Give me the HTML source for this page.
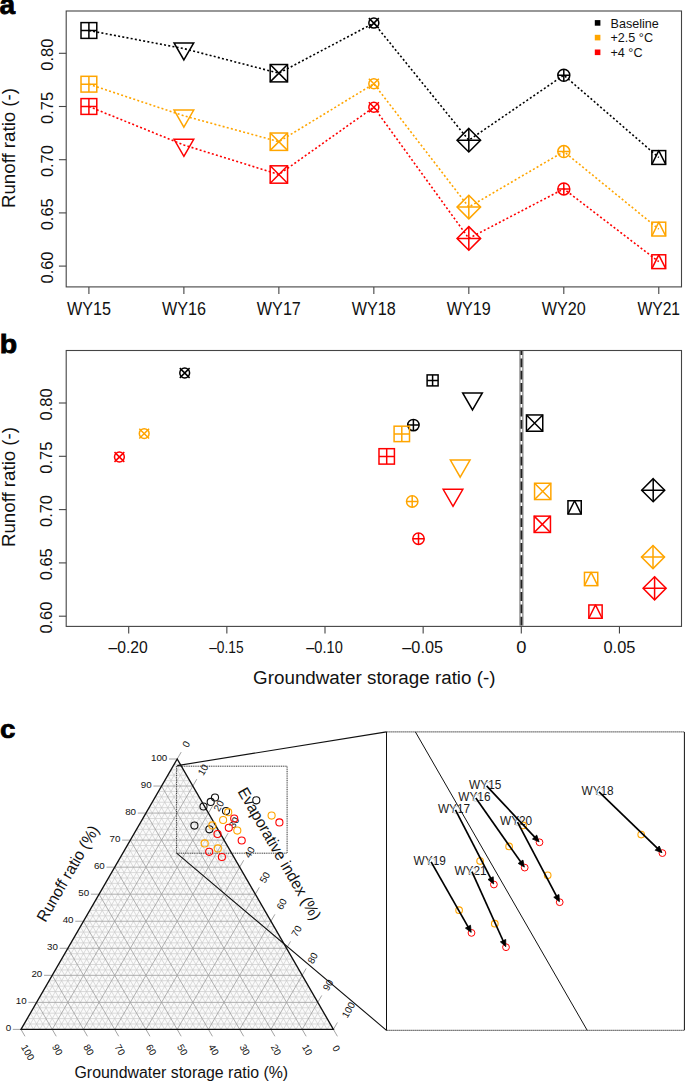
<!DOCTYPE html>
<html><head><meta charset="utf-8"><style>
html,body{margin:0;padding:0;background:#fff;width:685px;height:1081px;overflow:hidden}
svg{display:block}
text{font-family:"Liberation Sans",sans-serif;fill:#111}
</style></head><body>
<svg width="685" height="1081" viewBox="0 0 685 1081">
<text x="-0.4" y="14.1" font-size="27" font-weight="bold" style="fill:#000" textLength="15.6" lengthAdjust="spacingAndGlyphs" stroke="#000" stroke-width="0.8">a</text>
<rect x="66.2" y="11" width="615.3" height="275.9" fill="none" stroke="#444" stroke-width="1.1"/>
<path d="M58.9 266.1H66.2" stroke="#444" stroke-width="1.1"/>
<text x="52.7" y="267.5" font-size="16" text-anchor="middle" textLength="32" lengthAdjust="spacingAndGlyphs" transform="rotate(-90 52.7 267.5)">0.60</text>
<path d="M58.9 212.9H66.2" stroke="#444" stroke-width="1.1"/>
<text x="52.7" y="214.3" font-size="16" text-anchor="middle" textLength="32" lengthAdjust="spacingAndGlyphs" transform="rotate(-90 52.7 214.3)">0.65</text>
<path d="M58.9 159.7H66.2" stroke="#444" stroke-width="1.1"/>
<text x="52.7" y="161.1" font-size="16" text-anchor="middle" textLength="32" lengthAdjust="spacingAndGlyphs" transform="rotate(-90 52.7 161.1)">0.70</text>
<path d="M58.9 106.5H66.2" stroke="#444" stroke-width="1.1"/>
<text x="52.7" y="107.9" font-size="16" text-anchor="middle" textLength="32" lengthAdjust="spacingAndGlyphs" transform="rotate(-90 52.7 107.9)">0.75</text>
<path d="M58.9 53.3H66.2" stroke="#444" stroke-width="1.1"/>
<text x="52.7" y="54.7" font-size="16" text-anchor="middle" textLength="32" lengthAdjust="spacingAndGlyphs" transform="rotate(-90 52.7 54.7)">0.80</text>
<path d="M88.9 286.9V293.9" stroke="#444" stroke-width="1.1"/>
<text x="88.9" y="315" font-size="17.5" text-anchor="middle" textLength="44" lengthAdjust="spacingAndGlyphs">WY15</text>
<path d="M183.88 286.9V293.9" stroke="#444" stroke-width="1.1"/>
<text x="183.88" y="315" font-size="17.5" text-anchor="middle" textLength="44" lengthAdjust="spacingAndGlyphs">WY16</text>
<path d="M278.86 286.9V293.9" stroke="#444" stroke-width="1.1"/>
<text x="278.86" y="315" font-size="17.5" text-anchor="middle" textLength="44" lengthAdjust="spacingAndGlyphs">WY17</text>
<path d="M373.84 286.9V293.9" stroke="#444" stroke-width="1.1"/>
<text x="373.84" y="315" font-size="17.5" text-anchor="middle" textLength="44" lengthAdjust="spacingAndGlyphs">WY18</text>
<path d="M468.82 286.9V293.9" stroke="#444" stroke-width="1.1"/>
<text x="468.82" y="315" font-size="17.5" text-anchor="middle" textLength="44" lengthAdjust="spacingAndGlyphs">WY19</text>
<path d="M563.8 286.9V293.9" stroke="#444" stroke-width="1.1"/>
<text x="563.8" y="315" font-size="17.5" text-anchor="middle" textLength="44" lengthAdjust="spacingAndGlyphs">WY20</text>
<path d="M658.78 286.9V293.9" stroke="#444" stroke-width="1.1"/>
<text x="658.78" y="315" font-size="17.5" text-anchor="middle" textLength="42.6" lengthAdjust="spacingAndGlyphs">WY21</text>
<text x="15.4" y="148" font-size="18" text-anchor="middle" textLength="120" lengthAdjust="spacingAndGlyphs" transform="rotate(-90 15.4 148)">Runoff ratio (-)</text>
<polyline points="88.9,30.5 183.88,48.6 278.86,73.2 373.84,23.1 468.82,140.2 563.8,75.2 658.78,157.5" fill="none" stroke="#000" stroke-width="1.6" stroke-dasharray="2 2.25"/>
<polyline points="88.9,84.2 183.88,115.8 278.86,141.7 373.84,83.8 468.82,207.1 563.8,151.6 658.78,229.1" fill="none" stroke="#FFA500" stroke-width="1.6" stroke-dasharray="2 2.25"/>
<polyline points="88.9,106.5 183.88,145 278.86,174.5 373.84,107.2 468.82,238.4 563.8,188.9 658.78,261.7" fill="none" stroke="#FF0000" stroke-width="1.6" stroke-dasharray="2 2.25"/>
<rect x="81.01" y="22.61" width="15.77" height="15.77" fill="none" stroke="#000" stroke-width="1.5"/><path d="M88.9 22.61V38.39M81.01 30.5H96.79" fill="none" stroke="#000" stroke-width="1.5"/>
<path d="M183.88 59.95L193.71 42.92L174.05 42.92Z" fill="none" stroke="#000" stroke-width="1.5" stroke-linejoin="miter"/>
<rect x="270.18" y="64.52" width="17.37" height="17.37" fill="none" stroke="#000" stroke-width="1.5"/><path d="M270.18 64.52L287.54 81.88M270.18 81.88L287.54 64.52" fill="none" stroke="#000" stroke-width="1.5"/>
<circle cx="373.84" cy="23.1" r="5" fill="none" stroke="#000" stroke-width="1.5"/><path d="M368.84 18.1L378.84 28.1M368.84 28.1L378.84 18.1" fill="none" stroke="#000" stroke-width="1.5"/>
<path d="M468.82 128.42L480.6 140.2L468.82 151.98L457.04 140.2Z" fill="none" stroke="#000" stroke-width="1.5"/><path d="M468.82 128.42V151.98M457.04 140.2H480.6" fill="none" stroke="#000" stroke-width="1.5"/>
<circle cx="563.8" cy="75.2" r="6" fill="none" stroke="#000" stroke-width="1.5"/><path d="M563.8 69.2V81.2M557.8 75.2H569.8" fill="none" stroke="#000" stroke-width="1.5"/>
<rect x="651.87" y="150.59" width="13.82" height="13.82" fill="none" stroke="#000" stroke-width="1.5"/><path d="M651.87 164.41L658.78 150.59L665.69 164.41" fill="none" stroke="#000" stroke-width="1.5" stroke-linejoin="round"/>
<rect x="81.01" y="76.31" width="15.77" height="15.77" fill="none" stroke="#FFA500" stroke-width="1.5"/><path d="M88.9 76.31V92.09M81.01 84.2H96.79" fill="none" stroke="#FFA500" stroke-width="1.5"/>
<path d="M183.88 127.15L193.71 110.12L174.05 110.12Z" fill="none" stroke="#FFA500" stroke-width="1.5" stroke-linejoin="miter"/>
<rect x="270.18" y="133.02" width="17.37" height="17.37" fill="none" stroke="#FFA500" stroke-width="1.5"/><path d="M270.18 133.02L287.54 150.38M270.18 150.38L287.54 133.02" fill="none" stroke="#FFA500" stroke-width="1.5"/>
<circle cx="373.84" cy="83.8" r="5" fill="none" stroke="#FFA500" stroke-width="1.5"/><path d="M368.84 78.8L378.84 88.8M368.84 88.8L378.84 78.8" fill="none" stroke="#FFA500" stroke-width="1.5"/>
<path d="M468.82 195.32L480.6 207.1L468.82 218.88L457.04 207.1Z" fill="none" stroke="#FFA500" stroke-width="1.5"/><path d="M468.82 195.32V218.88M457.04 207.1H480.6" fill="none" stroke="#FFA500" stroke-width="1.5"/>
<circle cx="563.8" cy="151.6" r="6" fill="none" stroke="#FFA500" stroke-width="1.5"/><path d="M563.8 145.6V157.6M557.8 151.6H569.8" fill="none" stroke="#FFA500" stroke-width="1.5"/>
<rect x="651.87" y="222.19" width="13.82" height="13.82" fill="none" stroke="#FFA500" stroke-width="1.5"/><path d="M651.87 236.01L658.78 222.19L665.69 236.01" fill="none" stroke="#FFA500" stroke-width="1.5" stroke-linejoin="round"/>
<rect x="81.01" y="98.61" width="15.77" height="15.77" fill="none" stroke="#FF0000" stroke-width="1.5"/><path d="M88.9 98.61V114.39M81.01 106.5H96.79" fill="none" stroke="#FF0000" stroke-width="1.5"/>
<path d="M183.88 156.35L193.71 139.32L174.05 139.32Z" fill="none" stroke="#FF0000" stroke-width="1.5" stroke-linejoin="miter"/>
<rect x="270.18" y="165.82" width="17.37" height="17.37" fill="none" stroke="#FF0000" stroke-width="1.5"/><path d="M270.18 165.82L287.54 183.18M270.18 183.18L287.54 165.82" fill="none" stroke="#FF0000" stroke-width="1.5"/>
<circle cx="373.84" cy="107.2" r="5" fill="none" stroke="#FF0000" stroke-width="1.5"/><path d="M368.84 102.2L378.84 112.2M368.84 112.2L378.84 102.2" fill="none" stroke="#FF0000" stroke-width="1.5"/>
<path d="M468.82 226.62L480.6 238.4L468.82 250.18L457.04 238.4Z" fill="none" stroke="#FF0000" stroke-width="1.5"/><path d="M468.82 226.62V250.18M457.04 238.4H480.6" fill="none" stroke="#FF0000" stroke-width="1.5"/>
<circle cx="563.8" cy="188.9" r="6" fill="none" stroke="#FF0000" stroke-width="1.5"/><path d="M563.8 182.9V194.9M557.8 188.9H569.8" fill="none" stroke="#FF0000" stroke-width="1.5"/>
<rect x="651.87" y="254.79" width="13.82" height="13.82" fill="none" stroke="#FF0000" stroke-width="1.5"/><path d="M651.87 268.61L658.78 254.79L665.69 268.61" fill="none" stroke="#FF0000" stroke-width="1.5" stroke-linejoin="round"/>
<rect x="594.8" y="20.1" width="5.6" height="5.6" fill="#000"/>
<text x="610.5" y="27.5" font-size="12.6">Baseline</text>
<rect x="594.8" y="34.8" width="5.6" height="5.6" fill="#FFA500"/>
<text x="610.5" y="42.2" font-size="12.6">+2.5 °C</text>
<rect x="594.8" y="49.5" width="5.6" height="5.6" fill="#FF0000"/>
<text x="610.5" y="56.9" font-size="12.6">+4 °C</text>
<text x="-0.2" y="353.3" font-size="26.5" font-weight="bold" style="fill:#000" textLength="17.4" lengthAdjust="spacingAndGlyphs" stroke="#000" stroke-width="0.8">b</text>
<rect x="66.2" y="350.5" width="615.3" height="275.9" fill="none" stroke="#444" stroke-width="1.1"/>
<path d="M58.9 616.2H66.2" stroke="#444" stroke-width="1.1"/>
<text x="52.2" y="617.6" font-size="16" text-anchor="middle" textLength="32" lengthAdjust="spacingAndGlyphs" transform="rotate(-90 52.2 617.6)">0.60</text>
<path d="M58.9 562.9H66.2" stroke="#444" stroke-width="1.1"/>
<text x="52.2" y="564.3" font-size="16" text-anchor="middle" textLength="32" lengthAdjust="spacingAndGlyphs" transform="rotate(-90 52.2 564.3)">0.65</text>
<path d="M58.9 509.6H66.2" stroke="#444" stroke-width="1.1"/>
<text x="52.2" y="511" font-size="16" text-anchor="middle" textLength="32" lengthAdjust="spacingAndGlyphs" transform="rotate(-90 52.2 511)">0.70</text>
<path d="M58.9 456.3H66.2" stroke="#444" stroke-width="1.1"/>
<text x="52.2" y="457.7" font-size="16" text-anchor="middle" textLength="32" lengthAdjust="spacingAndGlyphs" transform="rotate(-90 52.2 457.7)">0.75</text>
<path d="M58.9 403H66.2" stroke="#444" stroke-width="1.1"/>
<text x="52.2" y="404.4" font-size="16" text-anchor="middle" textLength="32" lengthAdjust="spacingAndGlyphs" transform="rotate(-90 52.2 404.4)">0.80</text>
<path d="M128.7 626.4V633.4" stroke="#444" stroke-width="1.1"/>
<text x="128.2" y="653" font-size="16" text-anchor="middle" textLength="39.3" lengthAdjust="spacingAndGlyphs">–0.20</text>
<path d="M226.85 626.4V633.4" stroke="#444" stroke-width="1.1"/>
<text x="226.35" y="653" font-size="16" text-anchor="middle" textLength="34.4" lengthAdjust="spacingAndGlyphs">–0.15</text>
<path d="M325 626.4V633.4" stroke="#444" stroke-width="1.1"/>
<text x="324.5" y="653" font-size="16" text-anchor="middle" textLength="36.5" lengthAdjust="spacingAndGlyphs">–0.10</text>
<path d="M423.15 626.4V633.4" stroke="#444" stroke-width="1.1"/>
<text x="422.65" y="653" font-size="16" text-anchor="middle" textLength="40.6" lengthAdjust="spacingAndGlyphs">–0.05</text>
<path d="M521.3 626.4V633.4" stroke="#444" stroke-width="1.1"/>
<text x="521.3" y="653" font-size="16" text-anchor="middle" textLength="10.2" lengthAdjust="spacingAndGlyphs">0</text>
<path d="M619.45 626.4V633.4" stroke="#444" stroke-width="1.1"/>
<text x="619.45" y="653" font-size="16" text-anchor="middle" textLength="31.9" lengthAdjust="spacingAndGlyphs">0.05</text>
<text x="15.4" y="487" font-size="18" text-anchor="middle" textLength="120" lengthAdjust="spacingAndGlyphs" transform="rotate(-90 15.4 487)">Runoff ratio (-)</text>
<text x="374.3" y="684.2" font-size="18" text-anchor="middle" textLength="242.4" lengthAdjust="spacingAndGlyphs">Groundwater storage ratio (-)</text>
<path d="M521.4 351.1V625.8" stroke="#8a8a8a" stroke-width="4.2"/>
<path d="M521.4 351.1V625.8" stroke="#fff" stroke-width="1.6"/>
<path d="M521.4 351.1V625.8" stroke="#222" stroke-width="1.8" stroke-dasharray="8.8 3.5" stroke-dashoffset="5"/>
<rect x="427.11" y="374.91" width="10.99" height="10.99" fill="none" stroke="#000" stroke-width="1.5"/><path d="M432.6 374.91V385.89M427.11 380.4H438.09" fill="none" stroke="#000" stroke-width="1.5"/>
<path d="M472.5 409.95L482.33 392.92L462.67 392.92Z" fill="none" stroke="#000" stroke-width="1.5" stroke-linejoin="miter"/>
<rect x="526.45" y="414.95" width="16.3" height="16.3" fill="none" stroke="#000" stroke-width="1.5"/><path d="M526.45 414.95L542.75 431.25M526.45 431.25L542.75 414.95" fill="none" stroke="#000" stroke-width="1.5"/>
<circle cx="184.7" cy="373" r="4.9" fill="none" stroke="#000" stroke-width="1.5"/><path d="M179.8 368.1L189.6 377.9M179.8 377.9L189.6 368.1" fill="none" stroke="#000" stroke-width="1.5"/>
<path d="M653.2 478.67L664.73 490.2L653.2 501.73L641.67 490.2Z" fill="none" stroke="#000" stroke-width="1.5"/><path d="M653.2 478.67V501.73M641.67 490.2H664.73" fill="none" stroke="#000" stroke-width="1.5"/>
<circle cx="413.4" cy="425.1" r="5.7" fill="none" stroke="#000" stroke-width="1.5"/><path d="M413.4 419.4V430.8M407.7 425.1H419.1" fill="none" stroke="#000" stroke-width="1.5"/>
<rect x="567.96" y="500.75" width="13.29" height="13.29" fill="none" stroke="#000" stroke-width="1.5"/><path d="M567.96 514.04L574.6 500.75L581.25 514.04" fill="none" stroke="#000" stroke-width="1.5" stroke-linejoin="round"/>
<rect x="394.09" y="426.19" width="15.42" height="15.42" fill="none" stroke="#FFA500" stroke-width="1.5"/><path d="M401.8 426.19V441.61M394.09 433.9H409.51" fill="none" stroke="#FFA500" stroke-width="1.5"/>
<path d="M460.2 477.15L470.03 460.12L450.37 460.12Z" fill="none" stroke="#FFA500" stroke-width="1.5" stroke-linejoin="miter"/>
<rect x="534.55" y="483.25" width="16.3" height="16.3" fill="none" stroke="#FFA500" stroke-width="1.5"/><path d="M534.55 483.25L550.85 499.55M534.55 499.55L550.85 483.25" fill="none" stroke="#FFA500" stroke-width="1.5"/>
<circle cx="144.2" cy="433.6" r="4.9" fill="none" stroke="#FFA500" stroke-width="1.5"/><path d="M139.3 428.7L149.1 438.5M139.3 438.5L149.1 428.7" fill="none" stroke="#FFA500" stroke-width="1.5"/>
<path d="M653 545.57L664.53 557.1L653 568.63L641.47 557.1Z" fill="none" stroke="#FFA500" stroke-width="1.5"/><path d="M653 545.57V568.63M641.47 557.1H664.53" fill="none" stroke="#FFA500" stroke-width="1.5"/>
<circle cx="412.2" cy="501.5" r="5.7" fill="none" stroke="#FFA500" stroke-width="1.5"/><path d="M412.2 495.8V507.2M406.5 501.5H417.9" fill="none" stroke="#FFA500" stroke-width="1.5"/>
<rect x="584.46" y="572.36" width="13.29" height="13.29" fill="none" stroke="#FFA500" stroke-width="1.5"/><path d="M584.46 585.64L591.1 572.36L597.75 585.64" fill="none" stroke="#FFA500" stroke-width="1.5" stroke-linejoin="round"/>
<rect x="378.99" y="448.69" width="15.42" height="15.42" fill="none" stroke="#FF0000" stroke-width="1.5"/><path d="M386.7 448.69V464.11M378.99 456.4H394.41" fill="none" stroke="#FF0000" stroke-width="1.5"/>
<path d="M453 506.35L462.83 489.32L443.17 489.32Z" fill="none" stroke="#FF0000" stroke-width="1.5" stroke-linejoin="miter"/>
<rect x="534.15" y="516.15" width="16.3" height="16.3" fill="none" stroke="#FF0000" stroke-width="1.5"/><path d="M534.15 516.15L550.45 532.45M534.15 532.45L550.45 516.15" fill="none" stroke="#FF0000" stroke-width="1.5"/>
<circle cx="119.4" cy="457" r="4.9" fill="none" stroke="#FF0000" stroke-width="1.5"/><path d="M114.5 452.1L124.3 461.9M114.5 461.9L124.3 452.1" fill="none" stroke="#FF0000" stroke-width="1.5"/>
<path d="M654.6 576.77L666.13 588.3L654.6 599.83L643.07 588.3Z" fill="none" stroke="#FF0000" stroke-width="1.5"/><path d="M654.6 576.77V599.83M643.07 588.3H666.13" fill="none" stroke="#FF0000" stroke-width="1.5"/>
<circle cx="418.5" cy="538.7" r="5.7" fill="none" stroke="#FF0000" stroke-width="1.5"/><path d="M418.5 533V544.4M412.8 538.7H424.2" fill="none" stroke="#FF0000" stroke-width="1.5"/>
<rect x="588.86" y="604.96" width="13.29" height="13.29" fill="none" stroke="#FF0000" stroke-width="1.5"/><path d="M588.86 618.25L595.5 604.96L602.14 618.25" fill="none" stroke="#FF0000" stroke-width="1.5" stroke-linejoin="round"/>
<text x="0" y="737.9" font-size="25" font-weight="bold" style="fill:#000" textLength="15.4" lengthAdjust="spacingAndGlyphs" stroke="#000" stroke-width="0.7">c</text>
<path d="M21 1029.4L333.4 1029.4L177.2 759Z" fill="#fbfbfb"/>
<path d="M24.12 1023.99L330.28 1023.99M27.25 1029.4L180.32 764.41M327.15 1029.4L174.08 764.41M27.25 1018.58L327.15 1018.58M33.5 1029.4L183.45 769.82M320.9 1029.4L170.95 769.82M30.37 1013.18L324.03 1013.18M39.74 1029.4L186.57 775.22M314.66 1029.4L167.83 775.22M33.5 1007.77L320.9 1007.77M45.99 1029.4L189.7 780.63M308.41 1029.4L164.7 780.63M39.74 996.95L314.66 996.95M58.49 1029.4L195.94 791.45M295.91 1029.4L158.46 791.45M42.87 991.54L311.53 991.54M64.74 1029.4L199.07 796.86M289.66 1029.4L155.33 796.86M45.99 986.14L308.41 986.14M70.98 1029.4L202.19 802.26M283.42 1029.4L152.21 802.26M49.12 980.73L305.28 980.73M77.23 1029.4L205.32 807.67M277.17 1029.4L149.08 807.67M55.36 969.91L299.04 969.91M89.73 1029.4L211.56 818.49M264.67 1029.4L142.84 818.49M58.49 964.5L295.91 964.5M95.98 1029.4L214.69 823.9M258.42 1029.4L139.71 823.9M61.61 959.1L292.79 959.1M102.22 1029.4L217.81 829.3M252.18 1029.4L136.59 829.3M64.74 953.69L289.66 953.69M108.47 1029.4L220.94 834.71M245.93 1029.4L133.46 834.71M70.98 942.87L283.42 942.87M120.97 1029.4L227.18 845.53M233.43 1029.4L127.22 845.53M74.11 937.46L280.29 937.46M127.22 1029.4L230.31 850.94M227.18 1029.4L124.09 850.94M77.23 932.06L277.17 932.06M133.46 1029.4L233.43 856.34M220.94 1029.4L120.97 856.34M80.36 926.65L274.04 926.65M139.71 1029.4L236.56 861.75M214.69 1029.4L117.84 861.75M86.6 915.83L267.8 915.83M152.21 1029.4L242.8 872.57M202.19 1029.4L111.6 872.57M89.73 910.42L264.67 910.42M158.46 1029.4L245.93 877.98M195.94 1029.4L108.47 877.98M92.85 905.02L261.55 905.02M164.7 1029.4L249.05 883.38M189.7 1029.4L105.35 883.38M95.98 899.61L258.42 899.61M170.95 1029.4L252.18 888.79M183.45 1029.4L102.22 888.79M102.22 888.79L252.18 888.79M183.45 1029.4L258.42 899.61M170.95 1029.4L95.98 899.61M105.35 883.38L249.05 883.38M189.7 1029.4L261.55 905.02M164.7 1029.4L92.85 905.02M108.47 877.98L245.93 877.98M195.94 1029.4L264.67 910.42M158.46 1029.4L89.73 910.42M111.6 872.57L242.8 872.57M202.19 1029.4L267.8 915.83M152.21 1029.4L86.6 915.83M117.84 861.75L236.56 861.75M214.69 1029.4L274.04 926.65M139.71 1029.4L80.36 926.65M120.97 856.34L233.43 856.34M220.94 1029.4L277.17 932.06M133.46 1029.4L77.23 932.06M124.09 850.94L230.31 850.94M227.18 1029.4L280.29 937.46M127.22 1029.4L74.11 937.46M127.22 845.53L227.18 845.53M233.43 1029.4L283.42 942.87M120.97 1029.4L70.98 942.87M133.46 834.71L220.94 834.71M245.93 1029.4L289.66 953.69M108.47 1029.4L64.74 953.69M136.59 829.3L217.81 829.3M252.18 1029.4L292.79 959.1M102.22 1029.4L61.61 959.1M139.71 823.9L214.69 823.9M258.42 1029.4L295.91 964.5M95.98 1029.4L58.49 964.5M142.84 818.49L211.56 818.49M264.67 1029.4L299.04 969.91M89.73 1029.4L55.36 969.91M149.08 807.67L205.32 807.67M277.17 1029.4L305.28 980.73M77.23 1029.4L49.12 980.73M152.21 802.26L202.19 802.26M283.42 1029.4L308.41 986.14M70.98 1029.4L45.99 986.14M155.33 796.86L199.07 796.86M289.66 1029.4L311.53 991.54M64.74 1029.4L42.87 991.54M158.46 791.45L195.94 791.45M295.91 1029.4L314.66 996.95M58.49 1029.4L39.74 996.95M164.7 780.63L189.7 780.63M308.41 1029.4L320.9 1007.77M45.99 1029.4L33.5 1007.77M167.83 775.22L186.57 775.22M314.66 1029.4L324.03 1013.18M39.74 1029.4L30.37 1013.18M170.95 769.82L183.45 769.82M320.9 1029.4L327.15 1018.58M33.5 1029.4L27.25 1018.58M174.08 764.41L180.32 764.41M327.15 1029.4L330.28 1023.99M27.25 1029.4L24.12 1023.99" stroke="#cbcbcb" stroke-width="0.7" fill="none"/>
<path d="M36.62 1002.36L317.78 1002.36M52.24 1029.4L192.82 786.04M302.16 1029.4L161.58 786.04M52.24 975.32L302.16 975.32M83.48 1029.4L208.44 813.08M270.92 1029.4L145.96 813.08M67.86 948.28L286.54 948.28M114.72 1029.4L224.06 840.12M239.68 1029.4L130.34 840.12M83.48 921.24L270.92 921.24M145.96 1029.4L239.68 867.16M208.44 1029.4L114.72 867.16M99.1 894.2L255.3 894.2M177.2 1029.4L255.3 894.2M177.2 1029.4L99.1 894.2M114.72 867.16L239.68 867.16M208.44 1029.4L270.92 921.24M145.96 1029.4L83.48 921.24M130.34 840.12L224.06 840.12M239.68 1029.4L286.54 948.28M114.72 1029.4L67.86 948.28M145.96 813.08L208.44 813.08M270.92 1029.4L302.16 975.32M83.48 1029.4L52.24 975.32M161.58 786.04L192.82 786.04M302.16 1029.4L317.78 1002.36M52.24 1029.4L36.62 1002.36" stroke="#a2a2a2" stroke-width="0.85" fill="none"/>
<text x="11.1" y="1030.9" font-size="9.8" text-anchor="end">0</text>
<text x="27.8" y="1055.88" font-size="9.8" text-anchor="middle" transform="rotate(60 27.8 1052.4)">100</text>
<text x="26.72" y="1003.86" font-size="9.8" text-anchor="end">10</text>
<text x="57.44" y="1053.28" font-size="9.8" text-anchor="middle" transform="rotate(60 57.44 1049.8)">90</text>
<text x="42.34" y="976.82" font-size="9.8" text-anchor="end">20</text>
<text x="88.68" y="1053.28" font-size="9.8" text-anchor="middle" transform="rotate(60 88.68 1049.8)">80</text>
<text x="57.96" y="949.78" font-size="9.8" text-anchor="end">30</text>
<text x="119.92" y="1053.28" font-size="9.8" text-anchor="middle" transform="rotate(60 119.92 1049.8)">70</text>
<text x="73.58" y="922.74" font-size="9.8" text-anchor="end">40</text>
<text x="151.16" y="1053.28" font-size="9.8" text-anchor="middle" transform="rotate(60 151.16 1049.8)">60</text>
<text x="89.2" y="895.7" font-size="9.8" text-anchor="end">50</text>
<text x="182.4" y="1053.28" font-size="9.8" text-anchor="middle" transform="rotate(60 182.4 1049.8)">50</text>
<text x="104.82" y="868.66" font-size="9.8" text-anchor="end">60</text>
<text x="213.64" y="1053.28" font-size="9.8" text-anchor="middle" transform="rotate(60 213.64 1049.8)">40</text>
<text x="120.44" y="841.62" font-size="9.8" text-anchor="end">70</text>
<text x="244.88" y="1053.28" font-size="9.8" text-anchor="middle" transform="rotate(60 244.88 1049.8)">30</text>
<text x="136.06" y="814.58" font-size="9.8" text-anchor="end">80</text>
<text x="276.12" y="1053.28" font-size="9.8" text-anchor="middle" transform="rotate(60 276.12 1049.8)">20</text>
<text x="151.68" y="787.54" font-size="9.8" text-anchor="end">90</text>
<text x="307.36" y="1053.28" font-size="9.8" text-anchor="middle" transform="rotate(60 307.36 1049.8)">10</text>
<text x="167.3" y="760.5" font-size="9.8" text-anchor="end">100</text>
<text x="336.3" y="1051.88" font-size="9.8" text-anchor="middle" transform="rotate(60 336.3 1048.4)">0</text>
<path d="M12.8 1029.4H21M21 1029.4L25 1036.3M177.2 759L181.2 752.1M28.42 1002.36H36.62M52.24 1029.4L56.24 1036.3M192.82 786.04L196.82 779.14M44.04 975.32H52.24M83.48 1029.4L87.48 1036.3M208.44 813.08L212.44 806.18M59.66 948.28H67.86M114.72 1029.4L118.72 1036.3M224.06 840.12L228.06 833.22M75.28 921.24H83.48M145.96 1029.4L149.96 1036.3M239.68 867.16L243.68 860.26M90.9 894.2H99.1M177.2 1029.4L181.2 1036.3M255.3 894.2L259.3 887.3M106.52 867.16H114.72M208.44 1029.4L212.44 1036.3M270.92 921.24L274.92 914.34M122.14 840.12H130.34M239.68 1029.4L243.68 1036.3M286.54 948.28L290.54 941.38M137.76 813.08H145.96M270.92 1029.4L274.92 1036.3M302.16 975.32L306.16 968.42M153.38 786.04H161.58M302.16 1029.4L306.16 1036.3M317.78 1002.36L321.78 995.46M169 759H177.2M333.4 1029.4L337.4 1036.3M333.4 1029.4L337.4 1022.5" stroke="#999" stroke-width="0.9" fill="none"/>
<text x="186.2" y="747.68" font-size="9.8" text-anchor="middle" transform="rotate(-60 186.2 744.2)">0</text>
<text x="202.9" y="773.28" font-size="9.8" text-anchor="middle" transform="rotate(-60 202.9 769.8)">10</text>
<text x="218.7" y="809.28" font-size="9.8" text-anchor="middle" transform="rotate(-60 218.7 805.8)">20</text>
<text x="234" y="825.98" font-size="9.8" text-anchor="middle" transform="rotate(-60 234 822.5)">30</text>
<text x="249.5" y="855.68" font-size="9.8" text-anchor="middle" transform="rotate(-60 249.5 852.2)">40</text>
<text x="264.8" y="880.88" font-size="9.8" text-anchor="middle" transform="rotate(-60 264.8 877.4)">50</text>
<text x="281.6" y="907.58" font-size="9.8" text-anchor="middle" transform="rotate(-60 281.6 904.1)">60</text>
<text x="296.5" y="934.58" font-size="9.8" text-anchor="middle" transform="rotate(-60 296.5 931.1)">70</text>
<text x="312.6" y="961.58" font-size="9.8" text-anchor="middle" transform="rotate(-60 312.6 958.1)">80</text>
<text x="327.9" y="988.58" font-size="9.8" text-anchor="middle" transform="rotate(-60 327.9 985.1)">90</text>
<text x="348.3" y="1013.38" font-size="9.8" text-anchor="middle" transform="rotate(-60 348.3 1009.9)">100</text>
<path d="M21 1029.4L333.4 1029.4L177.2 759Z" fill="none" stroke="#111" stroke-width="1.35" stroke-linejoin="miter"/>
<text x="181.3" y="1077.6" font-size="16" text-anchor="middle" textLength="213.6" lengthAdjust="spacingAndGlyphs">Groundwater storage ratio (%)</text>
<text x="72.6" y="876.2" font-size="16" text-anchor="middle" textLength="108" lengthAdjust="spacingAndGlyphs" transform="rotate(-60 72.6 876.2)">Runoff ratio (%)</text>
<text x="274.8" y="856.4" font-size="16" text-anchor="middle" textLength="150" lengthAdjust="spacingAndGlyphs" transform="rotate(60 274.8 856.4)">Evaporative index (%)</text>
<rect x="176.6" y="766.2" width="110.5" height="87.0" fill="none" stroke="#222" stroke-width="0.9" stroke-dasharray="1.1 0.7"/>
<path d="M177.2 765.6L386.5 731.9M176.6 853.2L386.5 1030.3" stroke="#111" stroke-width="1.1" fill="none"/>
<circle cx="215" cy="797.5" r="3.55" fill="none" stroke="#111" stroke-width="1.1"/>
<circle cx="210.7" cy="801.9" r="3.55" fill="none" stroke="#111" stroke-width="1.1"/>
<circle cx="203.5" cy="806.5" r="3.55" fill="none" stroke="#111" stroke-width="1.1"/>
<circle cx="256.3" cy="800.3" r="3.55" fill="none" stroke="#111" stroke-width="1.1"/>
<circle cx="194.4" cy="825.6" r="3.55" fill="none" stroke="#111" stroke-width="1.1"/>
<circle cx="226" cy="811" r="3.55" fill="none" stroke="#111" stroke-width="1.1"/>
<circle cx="209.4" cy="829.3" r="3.55" fill="none" stroke="#111" stroke-width="1.1"/>
<circle cx="228.2" cy="812.2" r="3.55" fill="none" stroke="#FFA500" stroke-width="1.1"/>
<circle cx="223.1" cy="820" r="3.55" fill="none" stroke="#FFA500" stroke-width="1.1"/>
<circle cx="212.4" cy="825.4" r="3.55" fill="none" stroke="#FFA500" stroke-width="1.1"/>
<circle cx="271.6" cy="815.6" r="3.55" fill="none" stroke="#FFA500" stroke-width="1.1"/>
<circle cx="204.7" cy="843.4" r="3.55" fill="none" stroke="#FFA500" stroke-width="1.1"/>
<circle cx="237.3" cy="830.6" r="3.55" fill="none" stroke="#FFA500" stroke-width="1.1"/>
<circle cx="217.8" cy="848.4" r="3.55" fill="none" stroke="#FFA500" stroke-width="1.1"/>
<circle cx="234.2" cy="818.5" r="3.55" fill="none" stroke="#FF0000" stroke-width="1.1"/>
<circle cx="228.8" cy="827.8" r="3.55" fill="none" stroke="#FF0000" stroke-width="1.1"/>
<circle cx="217.5" cy="834" r="3.55" fill="none" stroke="#FF0000" stroke-width="1.1"/>
<circle cx="279.4" cy="822.4" r="3.55" fill="none" stroke="#FF0000" stroke-width="1.1"/>
<circle cx="209.2" cy="851.8" r="3.55" fill="none" stroke="#FF0000" stroke-width="1.1"/>
<circle cx="241.7" cy="840.5" r="3.55" fill="none" stroke="#FF0000" stroke-width="1.1"/>
<circle cx="221.9" cy="857" r="3.55" fill="none" stroke="#FF0000" stroke-width="1.1"/>
<path d="M386.5 731.9V1030.3M684.4 731.9V1030.3" stroke="#111" stroke-width="1" fill="none"/>
<path d="M386.5 731.9H684.4M386.5 1030.3H684.4" stroke="#111" stroke-width="1" stroke-dasharray="1.2 0.8" fill="none"/>
<path d="M415.4 731.9L587.2 1030.3" stroke="#111" stroke-width="1" fill="none"/>
<circle cx="523.1" cy="825.4" r="3.3" fill="none" stroke="#FFA500" stroke-width="1.1"/>
<circle cx="509.1" cy="846.4" r="3.3" fill="none" stroke="#FFA500" stroke-width="1.1"/>
<circle cx="480.1" cy="861.1" r="3.3" fill="none" stroke="#FFA500" stroke-width="1.1"/>
<circle cx="641.2" cy="834.6" r="3.3" fill="none" stroke="#FFA500" stroke-width="1.1"/>
<circle cx="459.1" cy="910.2" r="3.3" fill="none" stroke="#FFA500" stroke-width="1.1"/>
<circle cx="547.7" cy="875.3" r="3.3" fill="none" stroke="#FFA500" stroke-width="1.1"/>
<circle cx="494.8" cy="923.7" r="3.3" fill="none" stroke="#FFA500" stroke-width="1.1"/>
<circle cx="539.5" cy="842.3" r="3.4" fill="none" stroke="#FF0000" stroke-width="1.0"/>
<circle cx="524.7" cy="867.6" r="3.4" fill="none" stroke="#FF0000" stroke-width="1.0"/>
<circle cx="493.9" cy="884.5" r="3.4" fill="none" stroke="#FF0000" stroke-width="1.0"/>
<circle cx="662.4" cy="853.1" r="3.4" fill="none" stroke="#FF0000" stroke-width="1.0"/>
<circle cx="471.5" cy="932.9" r="3.4" fill="none" stroke="#FF0000" stroke-width="1.0"/>
<circle cx="559.7" cy="902.2" r="3.4" fill="none" stroke="#FF0000" stroke-width="1.0"/>
<circle cx="506" cy="947.2" r="3.4" fill="none" stroke="#FF0000" stroke-width="1.0"/>
<text x="485.2" y="788.8" font-size="12.8" text-anchor="middle" style="fill:#1a1a1a" textLength="32.2" lengthAdjust="spacingAndGlyphs">WY15</text>
<text x="474.4" y="801.1" font-size="12.8" text-anchor="middle" style="fill:#1a1a1a" textLength="32.2" lengthAdjust="spacingAndGlyphs">WY16</text>
<text x="454" y="812.9" font-size="12.8" text-anchor="middle" style="fill:#1a1a1a" textLength="32.2" lengthAdjust="spacingAndGlyphs">WY17</text>
<text x="597.6" y="794.9" font-size="12.8" text-anchor="middle" style="fill:#1a1a1a" textLength="32.2" lengthAdjust="spacingAndGlyphs">WY18</text>
<text x="429.7" y="864.8" font-size="12.8" text-anchor="middle" style="fill:#1a1a1a" textLength="32.2" lengthAdjust="spacingAndGlyphs">WY19</text>
<text x="516.1" y="825.2" font-size="12.8" text-anchor="middle" style="fill:#1a1a1a" textLength="32.2" lengthAdjust="spacingAndGlyphs">WY20</text>
<text x="470.5" y="874.6" font-size="12.8" text-anchor="middle" style="fill:#1a1a1a" textLength="32.2" lengthAdjust="spacingAndGlyphs">WY21</text>
<circle cx="487.2" cy="785.8" r="3.6" fill="none" stroke="#d0d0d0" stroke-width="0.9"/>
<circle cx="476.4" cy="798.1" r="3.6" fill="none" stroke="#d0d0d0" stroke-width="0.9"/>
<circle cx="456" cy="809.9" r="3.6" fill="none" stroke="#d0d0d0" stroke-width="0.9"/>
<circle cx="599.6" cy="791.9" r="3.6" fill="none" stroke="#d0d0d0" stroke-width="0.9"/>
<circle cx="431.7" cy="861.8" r="3.6" fill="none" stroke="#d0d0d0" stroke-width="0.9"/>
<circle cx="518.1" cy="822.2" r="3.6" fill="none" stroke="#d0d0d0" stroke-width="0.9"/>
<circle cx="472.5" cy="871.6" r="3.6" fill="none" stroke="#d0d0d0" stroke-width="0.9"/>
<path d="M486.6 785.8L536.36 838.94" stroke="#000" stroke-width="1.7" fill="none"/>
<path d="M536.73 835.06L539.09 841.86L532.46 839.06Z" fill="#000" stroke="#000" stroke-width="0.8" stroke-linejoin="miter"/>
<path d="M475.8 798.1L522.05 863.84" stroke="#000" stroke-width="1.7" fill="none"/>
<path d="M522.96 860.04L524.35 867.11L518.17 863.42Z" fill="#000" stroke="#000" stroke-width="0.8" stroke-linejoin="miter"/>
<path d="M455.4 809.9L491.79 880.41" stroke="#000" stroke-width="1.7" fill="none"/>
<path d="M493.21 876.78L493.62 883.97L488.01 879.46Z" fill="#000" stroke="#000" stroke-width="0.8" stroke-linejoin="miter"/>
<path d="M599 791.9L659.09 849.91" stroke="#000" stroke-width="1.7" fill="none"/>
<path d="M659.27 846.01L661.97 852.68L655.2 850.22Z" fill="#000" stroke="#000" stroke-width="0.8" stroke-linejoin="miter"/>
<path d="M431.1 861.8L469.23 928.9" stroke="#000" stroke-width="1.7" fill="none"/>
<path d="M470.5 925.21L471.2 932.38L465.41 928.11Z" fill="#000" stroke="#000" stroke-width="0.8" stroke-linejoin="miter"/>
<path d="M517.5 822.2L557.55 898.13" stroke="#000" stroke-width="1.7" fill="none"/>
<path d="M558.94 894.49L559.42 901.67L553.76 897.22Z" fill="#000" stroke="#000" stroke-width="0.8" stroke-linejoin="miter"/>
<path d="M471.9 871.6L504.11 943.01" stroke="#000" stroke-width="1.7" fill="none"/>
<path d="M505.72 939.45L505.75 946.65L500.38 941.86Z" fill="#000" stroke="#000" stroke-width="0.8" stroke-linejoin="miter"/>
</svg>
</body></html>
